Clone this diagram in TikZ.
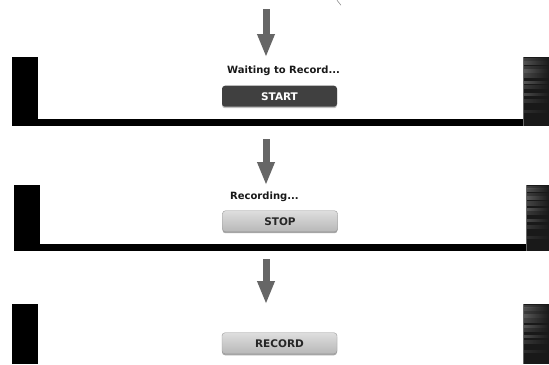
\documentclass[tikz,border=0pt]{standalone}
\usepackage{fontspec}
\setmainfont{DejaVu Sans}
\usetikzlibrary{arrows.meta,shadows}

% dark film edge on the right of each screen
\newcommand{\filmedge}[3]{%
  \fill[black!90] (#1,#2) rectangle (549,#3);
  \foreach \f/\g/\h in {0.95/70/2, 0.9/62/3, 0.84/72/2, 0.78/58/3, 0.7/68/4, 0.62/60/2, 0.55/74/3, 0.45/66/2, 0.35/76/3, 0.2/80/2} {
    \shade[left color=black!\g, right color=black!90, opacity=.8] (#1,{#2+\f*(#3-#2)}) rectangle (549,{#2+\f*(#3-#2)+\h});
  }
  \fill[black!60] (#1,#2) rectangle ({#1+1.2},#3);
}

\begin{document}
\begin{tikzpicture}[
  x=1pt, y=1pt,
  flow/.style={line width=7pt, draw=black!60, -{Triangle[length=23pt,width=16pt]}},
  caption/.style={font=\fontsize{10}{12}\selectfont\bfseries, text=black!90, inner sep=0pt, anchor=west},
  btn/.style={rounded corners=3pt, minimum width=115pt, minimum height=21pt, inner sep=0pt,
    font=\fontsize{10.5}{12}\selectfont\bfseries},
  btndark/.style={btn, fill=black!75, text=white,
    drop shadow={shadow xshift=0pt, shadow yshift=-1.5pt, opacity=.5}},
  btnlight/.style={btn, top color=black!13, bottom color=black!28, draw=black!40, text=black!85,
    drop shadow={shadow xshift=0pt, shadow yshift=-1.5pt, opacity=.7}}
]
\fill[white] (0,0) rectangle (549,364);
\draw[black!50, line width=.5pt] (337,364) -- (341,359);

% screen 1
\fill[black] (12,238) rectangle (38,307);
\fill[black] (12,238) rectangle (549,245.5);
\filmedge{523}{238}{307}
% screen 2
\fill[black] (14,113) rectangle (40,179);
\fill[black] (14,113) rectangle (549,120);
\filmedge{526}{113}{179}
% screen 3
\fill[black] (12,0) rectangle (38,60);
\filmedge{523}{0}{60}

\coordinate (in1) at (266,355);
\coordinate (scr1) at (266,307);
\coordinate (in2) at (266,225);
\coordinate (scr2) at (266,179);
\coordinate (in3) at (266,105);
\coordinate (scr3) at (266,60);

\node[caption] (waitlbl) at (227,293) {Waiting to Record...};
\node[btndark] (start) at (279.5,268) {START};
\node[caption] (reclbl) at (230,167) {Recording...};
\node[btnlight] (stop) at (280,143) {STOP};
\node[btnlight] (record) at (279.5,21) {RECORD};

\draw[flow] (in1) -- (scr1);
\draw[flow] (in2) -- (scr2);
\draw[flow] (in3) -- (scr3);
\end{tikzpicture}
\end{document}
